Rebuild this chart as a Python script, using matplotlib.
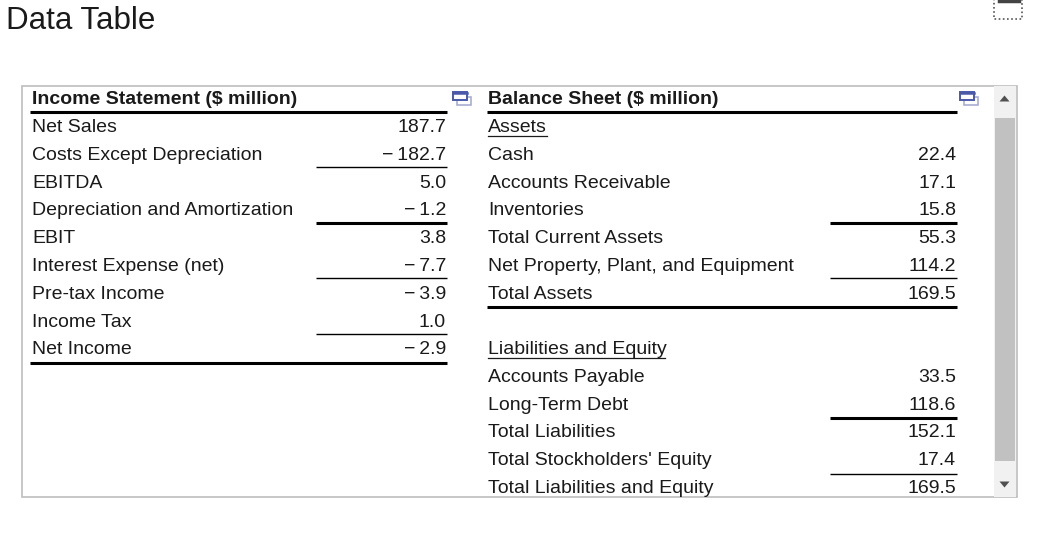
import matplotlib.pyplot as plt
from matplotlib.patches import Rectangle

# income statement ($ million)
income_labels = ["Net Sales", "Costs Except Depreciation", "EBITDA",
                 "Depreciation and Amortization", "EBIT", "Interest Expense (net)",
                 "Pre-tax Income", "Income Tax", "Net Income"]
income_values = [187.7, -182.7, 5.0, -1.2, 3.8, -7.7, -3.9, 1.0, -2.9]

# balance sheet ($ million)
asset_labels = ["Cash", "Accounts Receivable", "Inventories", "Total Current Assets",
                "Net Property, Plant, and Equipment", "Total Assets"]
asset_values = [22.4, 17.1, 15.8, 55.3, 114.2, 169.5]
liab_labels = ["Accounts Payable", "Long-Term Debt", "Total Liabilities",
               "Total Stockholders' Equity", "Total Liabilities and Equity"]
liab_values = [33.5, 118.6, 152.1, 17.4, 169.5]

plt.rcParams['font.family'] = ['Liberation Sans', 'DejaVu Sans']
TXT = "#1a1a1a"
FS = 14
ROW = 27.8
THICK, THIN = 2.2, 1.0


def fmt(v):
    if v < 0:
        return "\u2212\u2009%.1f" % -v
    return "%.1f" % v


def icon(ax, x, y):
    ax.add_patch(Rectangle((x + 4, y + 5), 14, 8, fill=False, ec="#a9aed0", lw=1.2))
    ax.add_patch(Rectangle((x, y), 14, 8, fill=True, fc="white", ec="#4b5aa8", lw=1.4))
    ax.plot([x, x + 14], [y + 1, y + 1], color="#4b5aa8", lw=1.8)


def rule(ax, x0, x1, y, lw):
    ax.plot([x0, x1], [y, y], color="black", lw=lw, solid_capstyle="butt")


fig = plt.figure(figsize=(10.45, 5.42), dpi=100)
ax = fig.add_axes([0, 0, 1, 1])
ax.set_xlim(0, 1045)
ax.set_ylim(542, 0)
ax.axis("off")

ax.text(6, 29, "Data Table", fontsize=22.5, color=TXT, va="baseline")

# dotted box top right
ax.add_patch(Rectangle((993.5, -2), 28, 21, fill=False, ec="#555555", lw=1.2, ls=(0, (1, 1.5))))
ax.plot([999, 1019], [0.8, 0.8], color="#444444", lw=2.5)

# outer frame
ax.add_patch(Rectangle((21.5, 85.5), 995, 411.5, fill=False, ec="#bdbdbd", lw=1.2))

# scrollbar
ax.add_patch(Rectangle((994, 86), 22, 410.5, fc="#f1f1f1", ec="none"))
ax.add_patch(Rectangle((995, 118), 20, 343, fc="#c1c1c1", ec="none"))
ax.add_patch(plt.Polygon([[999.5, 101.5], [1009.5, 101.5], [1004.5, 95.5]], fc="#505050", ec="none"))
ax.add_patch(plt.Polygon([[999.5, 481.5], [1009.5, 481.5], [1004.5, 487.5]], fc="#505050", ec="none"))

# ---- left table
lx, lr = 32, 446
ax.text(lx, 104.5, "Income Statement ($ million)", fontsize=FS, fontweight="bold", color=TXT)
rule(ax, 30, 447, 111.5, THICK)
icon(ax, 453, 92)
for i, (lab, v) in enumerate(zip(income_labels, income_values)):
    yb = 132 + i * ROW
    ax.text(lx, yb, lab, fontsize=FS, color=TXT)
    ax.text(lr, yb, fmt(v), fontsize=FS, color=TXT, ha="right")

rule(ax, 316, 447, 167, THIN)
rule(ax, 316, 447, 222.5, THICK)
rule(ax, 316, 447, 278, THIN)
rule(ax, 316, 447, 334, THIN)
rule(ax, 30, 447, 362.5, THICK)

# ---- right table
rx, rr = 488, 956
ax.text(rx, 104.5, "Balance Sheet ($ million)", fontsize=FS, fontweight="bold", color=TXT)
rule(ax, 487, 957, 111.5, THICK)
icon(ax, 960, 92)

ax.text(rx, 132, "Assets", fontsize=FS, color=TXT)
ax.plot([488, 547], [136, 136], color=TXT, lw=0.9)
for i, (lab, v) in enumerate(zip(asset_labels, asset_values)):
    yb = 132 + (i + 1) * ROW
    ax.text(rx, yb, lab, fontsize=FS, color=TXT)
    ax.text(rr, yb, fmt(v), fontsize=FS, color=TXT, ha="right")

ax.text(rx, 354, "Liabilities and Equity", fontsize=FS, color=TXT)
ax.plot([488, 665], [358, 358], color=TXT, lw=0.9)
for i, (lab, v) in enumerate(zip(liab_labels, liab_values)):
    yb = 354 + (i + 1) * ROW
    ax.text(rx, yb, lab, fontsize=FS, color=TXT)
    ax.text(rr, yb, fmt(v), fontsize=FS, color=TXT, ha="right")

rule(ax, 830, 957, 222.5, THICK)
rule(ax, 830, 957, 278, THIN)
rule(ax, 487, 957, 306.5, THICK)
rule(ax, 830, 957, 418, THICK)
rule(ax, 830, 957, 473.5, THIN)

fig.savefig("out.png", dpi=100)
